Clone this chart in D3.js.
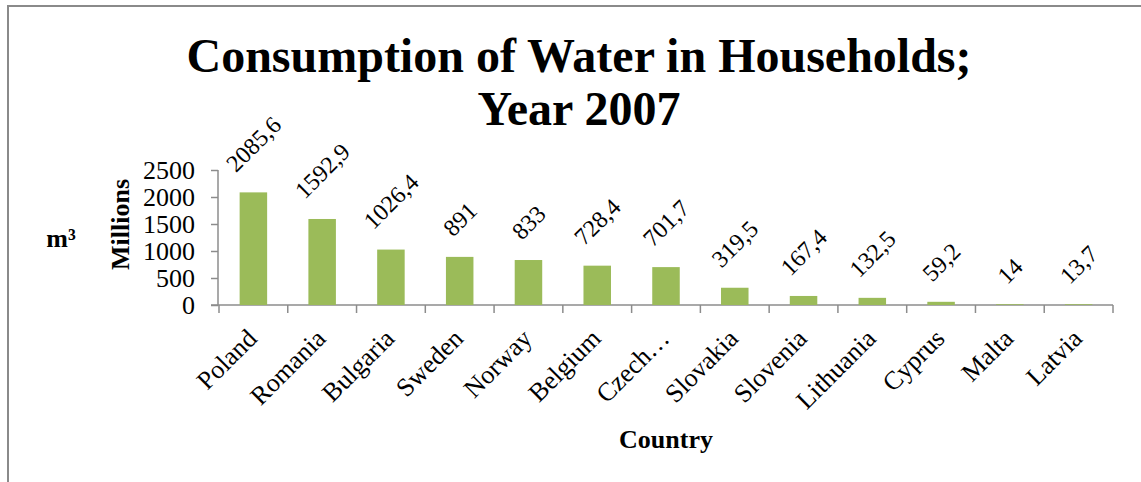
<!DOCTYPE html>
<html>
<head>
<meta charset="utf-8">
<script src="https://cdn.jsdelivr.net/npm/d3@7"></script>
<style>
  html, body { margin: 0; padding: 0; background: #fff; }
  svg { display: block; }
  text { font-family: "Liberation Serif", "Times New Roman", serif; fill: #000; }
</style>
</head>
<body>
<svg id="chart" width="1141" height="482"></svg>
<script>
const countries = ["Poland", "Romania", "Bulgaria", "Sweden", "Norway", "Belgium", "Czech…", "Slovakia", "Slovenia", "Lithuania", "Cyprus", "Malta", "Latvia"];
const values = [2085.6, 1592.9, 1026.4, 891, 833, 728.4, 701.7, 319.5, 167.4, 132.5, 59.2, 14, 13.7];
const yTicks = [0, 500, 1000, 1500, 2000, 2500];
const titleLines = ["Consumption of Water in Households;", "Year 2007"];

const svg = d3.select("#chart");
const axisColor = "#8c8c8c";
const barColor = "#9BBB59";

// frame
svg.append("rect").attr("x", 8).attr("y", 6).attr("width", 1200).attr("height", 600)
  .attr("fill", "none").attr("stroke", "#8a8a8a").attr("stroke-width", 2);

const x = d3.scaleBand().domain(countries).range([219, 1113]).padding(0);
const y = d3.scaleLinear().domain([0, 2500]).range([305, 170]);

// title
svg.append("text").attr("x", 579).attr("y", 72).attr("text-anchor", "middle")
  .attr("font-size", 48).attr("font-weight", "bold").text(titleLines[0]);
svg.append("text").attr("x", 579).attr("y", 125).attr("text-anchor", "middle")
  .attr("font-size", 48).attr("font-weight", "bold").text(titleLines[1]);

// y axis
const yAxis = svg.append("g").attr("transform", "translate(218,0)")
  .call(d3.axisLeft(y).tickValues(yTicks).tickSize(7).tickPadding(16).tickFormat(d3.format("d")));
yAxis.selectAll("path, line").attr("stroke", axisColor).attr("stroke-width", 1.5);
yAxis.select(".domain").attr("d", `M0,${y(0)}V${y(2500)}`);
yAxis.selectAll("text").attr("font-size", 26).attr("font-family", "Liberation Serif").attr("fill", "#000");

// x axis
const xg = svg.append("g");
xg.append("line").attr("x1", 211).attr("x2", x.range()[1]).attr("y1", y(0)).attr("y2", y(0))
  .attr("stroke", axisColor).attr("stroke-width", 1.5);
const bounds = countries.map(c => x(c)).concat([x.range()[1]]);
xg.selectAll("line.tick").data(bounds).join("line").attr("class", "tick")
  .attr("x1", d => d).attr("x2", d => d).attr("y1", y(0)).attr("y2", y(0) + 8)
  .attr("stroke", axisColor).attr("stroke-width", 1.5);

// bars
const bw = x.bandwidth() * 0.4;
svg.selectAll("rect.bar").data(countries).join("rect").attr("class", "bar")
  .attr("x", (c) => x(c) + x.bandwidth() / 2 - bw / 2)
  .attr("width", bw)
  .attr("y", (c, i) => y(values[i]))
  .attr("height", (c, i) => y(0) - y(values[i]))
  .attr("fill", barColor);

// value labels
const fmt = v => String(v).replace(".", ",");
svg.selectAll("text.val").data(countries).join("text").attr("class", "val")
  .attr("font-size", 24).attr("text-anchor", "middle").attr("dy", "0.35em")
  .text((c, i) => fmt(values[i]))
  .each(function (c, i) {
    const w = this.getComputedTextLength();
    const cx = x(c) + x.bandwidth() / 2;
    const cy = y(values[i]) - 25 - w * 0.354;
    d3.select(this).attr("transform", `translate(${cx},${cy}) rotate(-45)`);
  });

// category labels
svg.selectAll("text.cat").data(countries).join("text").attr("class", "cat")
  .attr("font-size", 26).attr("text-anchor", "end")
  .attr("transform", c => `translate(${x(c) + x.bandwidth() / 2 + 5},${y(0) + 35}) rotate(-45)`)
  .text(c => c);

// axis titles
svg.append("text").attr("x", 666).attr("y", 448).attr("text-anchor", "middle")
  .attr("font-size", 26).attr("font-weight", "bold").text("Country");
svg.append("text").attr("transform", "translate(129,224.5) rotate(-90)").attr("text-anchor", "middle")
  .attr("font-size", 26).attr("font-weight", "bold").text("Millions");
svg.append("text").attr("x", 61).attr("y", 247).attr("text-anchor", "middle")
  .attr("font-size", 26).attr("font-weight", "bold").text("m³");
</script>
</body>
</html>
